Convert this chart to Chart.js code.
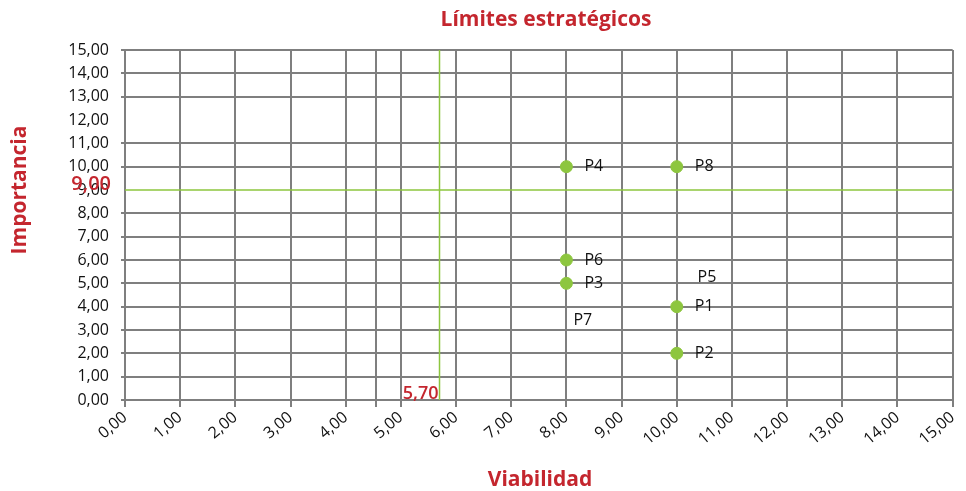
<!DOCTYPE html>
<html>
<head>
<meta charset="utf-8">
<script src="https://cdn.jsdelivr.net/npm/chart.js@4.4.1/dist/chart.umd.min.js"></script>
<style>
  html, body { margin: 0; padding: 0; background: #fff; }
  #wrap { width: 966px; height: 491px; position: relative; }
</style>
</head>
<body>
<div id="wrap"><canvas id="chart"></canvas></div>
<script>
// ---- datos ----
const pointNames = ['P1', 'P2', 'P3', 'P4', 'P6', 'P8'];
const pointX = [10, 10, 8, 8, 8, 10];
const pointY = [4, 2, 5, 10, 6, 10];

// etiquetas sin punto visible
const ghostNames = ['P5', 'P7'];
const ghostX = [10.05, 7.8];
const ghostY = [5.25, 3.4];

const axisTicks = [0, 1, 2, 3, 4, 5, 6, 7, 8, 9, 10, 11, 12, 13, 14, 15];
const extraGridX = [4.55];     // línea de rejilla extra sin etiqueta
const skipGridY = [9, 12];      // sin rejilla gris en el original

const limitX = 5.7;
const limitY = 9;

const RED = '#c4262e';
const GREEN = '#8dc63f';
const GRID = '#7f7f7f';
const FONT = "'Open Sans', 'DejaVu Sans', sans-serif";

const fmt = v => v.toFixed(2).replace('.', ',');

// ---- plugin: rejilla horizontal (sin 9 y 12) ----
const yGridPlugin = {
  id: 'yGrid',
  beforeDatasetsDraw(chart) {
    const { ctx, chartArea, scales } = chart;
    ctx.save();
    ctx.strokeStyle = GRID;
    ctx.lineWidth = 2;
    ctx.beginPath();
    axisTicks.forEach(v => {
      if (skipGridY.includes(v)) return;
      const py = Math.round(scales.y.getPixelForValue(v));
      ctx.moveTo(chartArea.left - 4, py);
      ctx.lineTo(chartArea.right, py);
    });
    ctx.stroke();
    ctx.restore();
  }
};

// ---- plugin: límites, títulos y etiquetas de puntos ----
const limitsPlugin = {
  id: 'limits',
  afterDatasetsDraw(chart) {
    const { ctx, chartArea, scales } = chart;
    const xs = scales.x, ys = scales.y;
    const lx = xs.getPixelForValue(limitX);
    const ly = ys.getPixelForValue(limitY);
    ctx.save();
    ctx.strokeStyle = GREEN;
    ctx.lineWidth = 1.5;
    ctx.beginPath();
    ctx.moveTo(lx, chartArea.top);
    ctx.lineTo(lx, chartArea.bottom);
    ctx.moveTo(chartArea.left, ly);
    ctx.lineTo(chartArea.right, ly);
    ctx.stroke();

    ctx.fillStyle = RED;
    ctx.font = '600 18px ' + FONT;
    ctx.textAlign = 'right';
    ctx.textBaseline = 'bottom';
    ctx.fillText(fmt(limitX), lx - 1, chartArea.bottom + 3);
    ctx.font = '600 20px ' + FONT;
    ctx.textBaseline = 'middle';
    ctx.fillText(fmt(limitY), chartArea.left - 14, ly - 6);

    // nombres de los puntos
    ctx.fillStyle = '#111';
    ctx.font = '16px ' + FONT;
    ctx.textAlign = 'left';
    ctx.textBaseline = 'middle';
    const drawNames = (names, xv, yv) => {
      names.forEach((n, i) => {
        ctx.fillText(n, xs.getPixelForValue(xv[i]) + 18, ys.getPixelForValue(yv[i]));
      });
    };
    drawNames(pointNames, pointX, pointY);
    drawNames(ghostNames, ghostX, ghostY);

    // títulos
    ctx.fillStyle = RED;
    ctx.font = 'bold 21px ' + FONT;
    ctx.textAlign = 'center';
    ctx.fillText('Límites estratégicos', 546, 20);
    ctx.font = 'bold 21px ' + FONT;
    ctx.fillText('Viabilidad', 540, 480);
    ctx.translate(20, 190);
    ctx.rotate(-Math.PI / 2);
    ctx.fillText('Importancia', 0, 0);
    ctx.restore();
  }
};

new Chart(document.getElementById('chart'), {
  type: 'scatter',
  data: {
    datasets: [
      {
        label: 'Puntos',
        data: pointX.map((x, i) => ({ x, y: pointY[i] })),
        backgroundColor: GREEN,
        borderColor: GREEN,
        pointRadius: 6,
        pointHoverRadius: 6
      },
      {
        label: 'Etiquetas',
        data: ghostX.map((x, i) => ({ x, y: ghostY[i] })),
        pointRadius: 0,
        pointHoverRadius: 0
      }
    ]
  },
  options: {
    responsive: true,
    maintainAspectRatio: false,
    animation: false,
    layout: { padding: { left: 0, right: 8, top: 50, bottom: 0 } },
    plugins: {
      legend: { display: false },
      tooltip: { enabled: false },
      title: { display: false }
    },
    scales: {
      x: {
        type: 'linear',
        min: 0, max: 15,
        afterBuildTicks: axis => {
          const vals = axisTicks.concat(extraGridX).sort((a, b) => a - b);
          axis.ticks = vals.map(v => ({ value: v }));
        },
        afterFit: axis => { axis.height = 91; },
        ticks: {
          color: '#111',
          font: { family: FONT, size: 16 },
          minRotation: 40,
          maxRotation: 40,
          padding: 1,
          autoSkip: false,
          callback: v => axisTicks.includes(v) ? fmt(v) : ''
        },
        grid: { color: GRID, lineWidth: 2, tickLength: 7 },
        border: { color: GRID, width: 2 }
      },
      y: {
        type: 'linear',
        min: 0, max: 15,
        afterBuildTicks: axis => {
          axis.ticks = axisTicks.map(v => ({ value: v }));
        },
        afterFit: axis => { axis.width = 125; },
        ticks: {
          color: '#111',
          font: { family: FONT, size: 16 },
          padding: 8,
          autoSkip: false,
          callback: v => fmt(v)
        },
        grid: { display: false },
        border: { color: GRID, width: 2 }
      }
    }
  },
  plugins: [yGridPlugin, limitsPlugin]
});
</script>
</body>
</html>
